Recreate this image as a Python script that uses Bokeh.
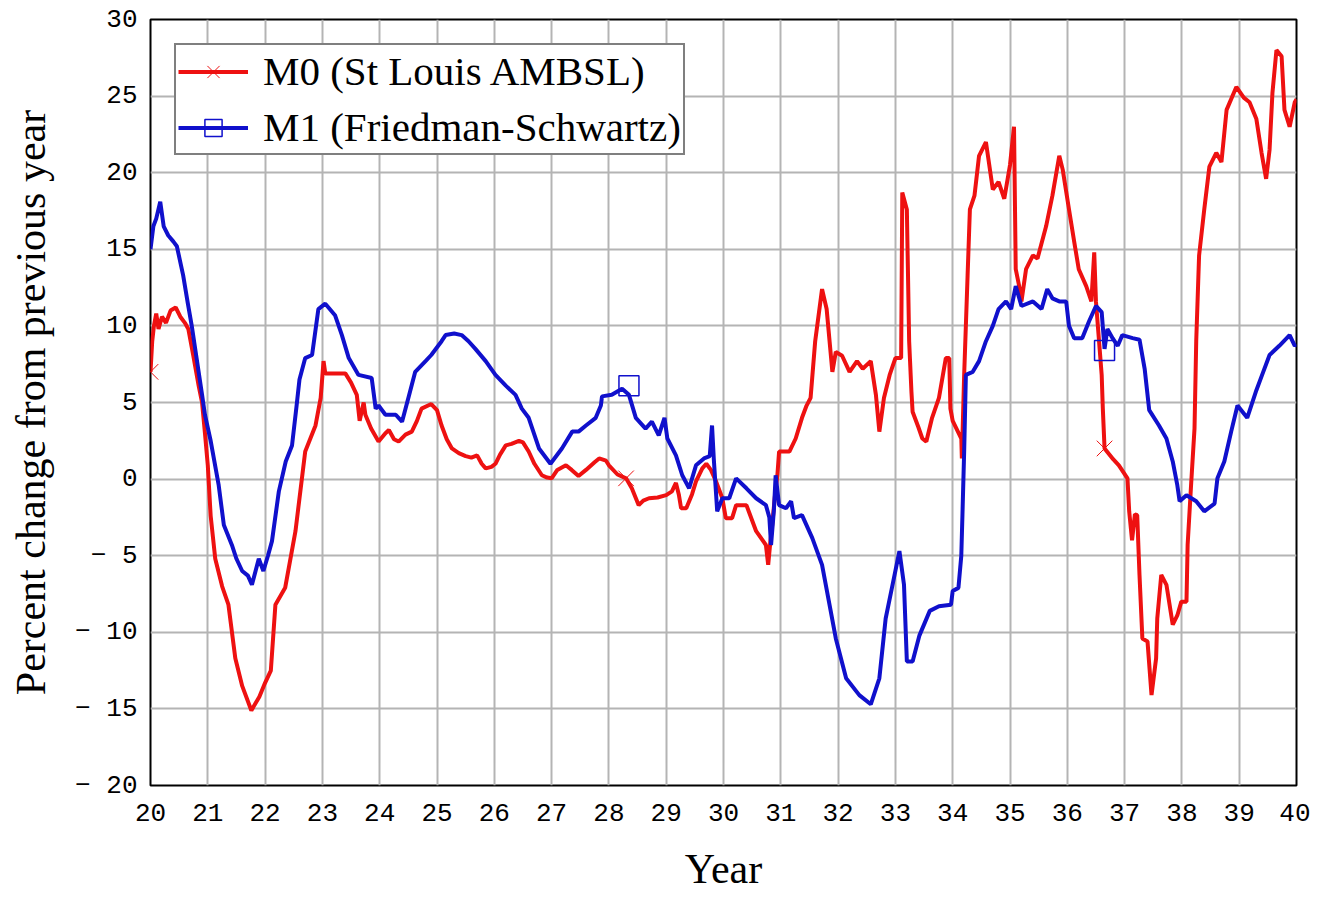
from bokeh.plotting import figure
from bokeh.models import Range1d, FixedTicker, Legend, LegendItem
from bokeh.embed import file_html
from bokeh.resources import INLINE

# ---- data ----
m0_year = [20.0, 20.03, 20.06, 20.1, 20.14, 20.2, 20.27, 20.35, 20.44, 20.52, 20.6, 20.66, 20.75, 20.84, 20.9, 20.95,
           21.0, 21.05, 21.13, 21.25, 21.36, 21.48, 21.6, 21.76, 21.9, 22.0, 22.1, 22.18, 22.35, 22.53, 22.7, 22.88, 22.97,
           23.02, 23.05, 23.2, 23.4, 23.5, 23.6, 23.65, 23.72, 23.75, 23.85, 23.98, 24.1, 24.16, 24.25, 24.33, 24.45, 24.56,
           24.65, 24.73, 24.9, 25.0, 25.08, 25.17, 25.26, 25.38, 25.5, 25.6, 25.7, 25.78, 25.85, 25.95, 26.02, 26.1, 26.2,
           26.3, 26.43, 26.5, 26.6, 26.7, 26.83, 26.92, 27.0, 27.1, 27.25, 27.35, 27.47, 27.6, 27.75, 27.83, 27.95, 28.0,
           28.15, 28.3, 28.4, 28.52, 28.6, 28.7, 28.85, 29.0, 29.1, 29.17, 29.22, 29.26, 29.35, 29.45, 29.52, 29.63, 29.7,
           29.78, 29.87, 29.98, 30.04, 30.15, 30.22, 30.4, 30.57, 30.74, 30.78, 30.82, 30.85, 30.9, 30.94, 30.97, 31.15,
           31.26, 31.37, 31.45, 31.52, 31.6, 31.72, 31.8, 31.9, 31.96, 32.07, 32.2, 32.33, 32.43, 32.57, 32.66, 32.72, 32.8,
           32.9, 33.0, 33.1, 33.12, 33.2, 33.24, 33.28, 33.3, 33.4, 33.47, 33.54, 33.64, 33.76, 33.88, 33.94, 33.96, 34.0,
           34.15, 34.16, 34.2, 34.26, 34.3, 34.38, 34.46, 34.58, 34.7, 34.8, 34.9, 35.0, 35.07, 35.1, 35.16, 35.2, 35.28,
           35.4, 35.48, 35.63, 35.74, 35.86, 35.92, 36.03, 36.12, 36.2, 36.33, 36.42, 36.47, 36.5, 36.6, 36.62, 36.65,
           36.8, 36.9, 37.05, 37.08, 37.13, 37.18, 37.22, 37.26, 37.31, 37.4, 37.47, 37.55, 37.57, 37.64, 37.73, 37.84,
           37.92, 37.99, 38.08, 38.1, 38.16, 38.22, 38.25, 38.3, 38.39, 38.48, 38.6, 38.69, 38.78, 38.95, 39.08, 39.18,
           39.3, 39.39, 39.47, 39.53, 39.58, 39.65, 39.74, 39.79, 39.88, 39.97, 40.0]
m0_pct = [7.0, 9.0, 10.0, 10.8, 9.8, 10.6, 10.2, 11.0, 11.2, 10.6, 10.2, 9.8, 8.0, 6.1, 5.0, 3.0,
          0.9, -2.4, -5.2, -7.0, -8.2, -11.7, -13.5, -15.1, -14.2, -13.3, -12.5, -8.2, -7.1, -3.4, 1.8, 3.5, 5.3,
          7.7, 6.9, 6.9, 6.9, 6.3, 5.5, 3.8, 5.0, 4.2, 3.3, 2.45, 3.0, 3.2, 2.6, 2.45, 2.9, 3.1,
          3.8, 4.6, 4.9, 4.5, 3.5, 2.6, 2.0, 1.7, 1.5, 1.4, 1.55, 1.0, 0.7, 0.8, 1.0, 1.6, 2.2,
          2.3, 2.5, 2.4, 1.8, 1.0, 0.25, 0.1, 0.05, 0.6, 0.9, 0.6, 0.2, 0.6, 1.1, 1.35, 1.2, 0.9,
          0.3, 0.05, -0.6, -1.7, -1.4, -1.25, -1.2, -1.05, -0.8, -0.25, -1.0, -1.9, -1.9, -1.0, -0.15, 0.7, 1.0,
          0.6, -0.15, -1.25, -2.55, -2.55, -1.7, -1.7, -3.4, -4.3, -5.6, -4.0, -3.0, -1.0, 0.25, 1.8, 1.8,
          2.65, 4.0, 4.8, 5.3, 9.0, 12.4, 11.1, 7.0, 8.3, 8.05, 7.0, 7.7, 7.2, 7.7, 5.5, 3.1, 5.3,
          6.8, 7.9, 7.9, 18.7, 17.6, 9.0, 5.7, 4.4, 3.4, 2.65, 2.45, 4.0, 5.3, 7.9, 7.9, 4.6, 3.8,
          2.65, 1.35, 6.8, 13.3, 17.6, 18.5, 21.1, 22.0, 18.9, 19.4, 18.3, 20.5, 23.0, 13.7, 12.6, 11.6, 13.7,
          14.6, 14.4, 16.5, 18.5, 21.1, 20.2, 17.6, 15.5, 13.7, 12.6, 11.6, 14.8, 11.6, 6.8, 4.6, 2.0,
          1.3, 0.9, 0.05, -2.1, -4.0, -2.3, -2.35, -6.25, -10.4, -10.6, -14.1, -11.7, -9.1, -6.25, -6.9, -9.5,
          -8.9, -8.0, -8.0, -4.3, -0.4, 3.3, 9.0, 14.6, 17.6, 20.4, 21.3, 20.7, 24.1, 25.6, 24.9, 24.6,
          23.5, 21.3, 19.6, 21.5, 25.2, 28.0, 27.6, 24.1, 23.0, 24.6, 24.8]

m1_year = [20.0, 20.05, 20.1, 20.17, 20.23, 20.31, 20.4, 20.46, 20.57, 20.65, 20.72, 20.8, 20.9, 20.95, 21.05, 21.19,
           21.28, 21.42, 21.5, 21.6, 21.7, 21.77, 21.89, 21.97, 22.05, 22.12, 22.24, 22.36, 22.47, 22.55, 22.6, 22.7,
           22.82, 22.93, 23.05, 23.22, 23.34, 23.46, 23.63, 23.86, 23.93, 23.98, 24.1, 24.28, 24.39, 24.5, 24.62, 24.8,
           24.9, 25.08, 25.15, 25.3, 25.43, 25.55, 25.67, 25.85, 26.02, 26.2, 26.37, 26.48, 26.6, 26.78, 26.98, 27.18,
           27.36, 27.47, 27.6, 27.77, 27.86, 27.88, 28.05, 28.23, 28.35, 28.47, 28.64, 28.75, 28.87, 28.97, 29.02, 29.17,
           29.28, 29.4, 29.52, 29.66, 29.76, 29.8, 29.83, 29.89, 29.98, 30.1, 30.22, 30.4, 30.57, 30.74, 30.8, 30.83,
           30.88, 30.91, 30.97, 31.09, 31.18, 31.23, 31.37, 31.55, 31.72, 31.85, 31.96, 32.14, 32.37, 32.57, 32.72, 32.83,
           32.95, 33.07, 33.15, 33.2, 33.3, 33.42, 33.6, 33.76, 33.97, 34.0, 34.1, 34.15, 34.17, 34.2, 34.23, 34.35,
           34.46, 34.58, 34.7, 34.8, 34.93, 35.02, 35.1, 35.2, 35.4, 35.55, 35.65, 35.74, 35.86, 35.98, 36.03, 36.12,
           36.26, 36.38, 36.5, 36.6, 36.65, 36.7, 36.79, 36.88, 36.96, 37.14, 37.26, 37.35, 37.43, 37.6, 37.73, 37.84,
           37.92, 37.96, 38.08, 38.25, 38.39, 38.57, 38.62, 38.74, 38.86, 38.97, 39.14, 39.3, 39.4, 39.53, 39.7, 39.88,
           39.97, 40.0]
m1_pct = [15.0, 16.5, 17.0, 18.1, 16.5, 15.9, 15.5, 15.2, 13.3, 11.5, 10.0, 8.0, 5.5, 4.2, 2.5, -0.4,
          -3.0, -4.3, -5.2, -6.0, -6.3, -6.9, -5.2, -6.0, -5.0, -4.05, -0.8, 1.15, 2.2, 4.8, 6.5, 7.9,
          8.1, 11.1, 11.45, 10.7, 9.4, 7.9, 6.8, 6.6, 4.6, 4.8, 4.2, 4.2, 3.75, 5.3, 7.0, 7.7,
          8.1, 9.0, 9.4, 9.5, 9.4, 9.0, 8.5, 7.7, 6.8, 6.1, 5.5, 4.6, 4.0, 2.0, 1.0, 2.0,
          3.1, 3.1, 3.5, 4.0, 4.8, 5.4, 5.5, 5.9, 5.5, 4.0, 3.3, 3.75, 2.85, 4.0, 2.65, 1.55,
          0.25, -0.6, 0.9, 1.35, 1.5, 3.5, 1.35, -2.1, -1.25, -1.25, 0.05, -0.6, -1.25, -1.7, -2.5, -4.3,
          -2.0, 0.25, -1.7, -1.9, -1.45, -2.55, -2.35, -3.85, -5.6, -8.2, -10.4, -13.0, -14.1, -14.7, -13.0, -9.1,
          -6.9, -4.7, -6.9, -11.9, -11.9, -10.2, -8.6, -8.3, -8.2, -7.3, -7.1, -5.0, -2.35, 1.8, 6.8, 7.0,
          7.7, 9.0, 10.0, 11.1, 11.6, 11.1, 12.6, 11.3, 11.6, 11.1, 12.4, 11.8, 11.6, 11.6, 10.0, 9.2,
          9.2, 10.3, 11.3, 10.9, 8.5, 9.8, 9.2, 8.7, 9.4, 9.2, 9.1, 7.2, 4.5, 3.5, 2.65, 1.15,
          -0.4, -1.45, -1.05, -1.45, -2.1, -1.6, 0.05, 1.15, 3.1, 4.8, 4.0, 5.8, 6.8, 8.1, 8.7, 9.4,
          8.7, 8.8]

m0_mark_year = [20.0, 28.3, 36.65]
m0_mark_pct = [7.0, 0.05, 2.0]
m1_mark_year = [28.35, 36.65]
m1_mark_pct = [6.1, 8.4]

x_ticks = list(range(20, 41))
y_ticks = [-20, -15, -10, -5, 0, 5, 10, 15, 20, 25, 30]
y_tick_labels = ["\u2212 20", "\u2212 15", "\u2212 10", "\u2212 5", "0", "5", "10", "15", "20", "25", "30"]

legend_labels = ["M0 (St Louis AMBSL)", "M1 (Friedman-Schwartz)"]
x_title = "Year"
y_title = "Percent change from previous year"

RED = "#ee1111"
BLUE = "#1010cc"
SERIF = "Liberation Serif"
MONO = "Liberation Mono"

p = figure(width=1310, height=894, output_backend="svg", toolbar_location=None,
           x_range=Range1d(20, 40), y_range=Range1d(-20, 30),
           min_border_left=150, min_border_right=14, min_border_top=19, min_border_bottom=107)

p.outline_line_color = "black"
p.outline_line_width = 2
p.background_fill_color = "white"
p.border_fill_color = "white"

for ax in (p.xaxis[0], p.yaxis[0]):
    ax.major_tick_line_color = None
    ax.minor_tick_line_color = None
    ax.axis_line_color = None
    ax.major_label_text_font = MONO
    ax.major_label_text_font_size = "26px"
    ax.major_label_text_color = "black"
    ax.axis_label_text_font = SERIF
    ax.axis_label_text_font_style = "normal"
    ax.axis_label_text_font_size = "42px"
    ax.axis_label_text_color = "black"

p.xaxis.ticker = FixedTicker(ticks=x_ticks)
p.yaxis.ticker = FixedTicker(ticks=y_ticks)
p.yaxis.major_label_overrides = {float(t): s for t, s in zip(y_ticks, y_tick_labels)}
p.xaxis.major_label_standoff = 12
p.yaxis.major_label_standoff = 7
p.xaxis.axis_label = x_title
p.yaxis.axis_label = y_title
p.xaxis.axis_label_standoff = 22
p.yaxis.axis_label_standoff = 18

p.xgrid.grid_line_color = "#b4b4b4"
p.ygrid.grid_line_color = "#b4b4b4"
p.xgrid.grid_line_width = 2
p.ygrid.grid_line_width = 2

r0 = p.line(m0_year, m0_pct, line_color=RED, line_width=4)
r1 = p.line(m1_year, m1_pct, line_color=BLUE, line_width=4)
s0 = p.scatter(m0_mark_year, m0_mark_pct, marker="x", size=22, line_color=RED, line_width=1)
s1 = p.scatter(m1_mark_year, m1_mark_pct, marker="square", size=20, line_color=BLUE, line_width=1.5,
               fill_color=None)

legend = Legend(items=[LegendItem(label=legend_labels[0], renderers=[r0, s0]),
                       LegendItem(label=legend_labels[1], renderers=[r1, s1])],
                location="top_left", margin=24, padding=2, spacing=8,
                glyph_width=70, glyph_height=43, label_height=43, label_standoff=15,
                label_text_font=SERIF, label_text_font_size="41px", label_text_color="black",
                border_line_color="black", border_line_width=2, background_fill_alpha=1.0)
p.add_layout(legend)

open("out.html", "w").write(file_html(p, INLINE))
